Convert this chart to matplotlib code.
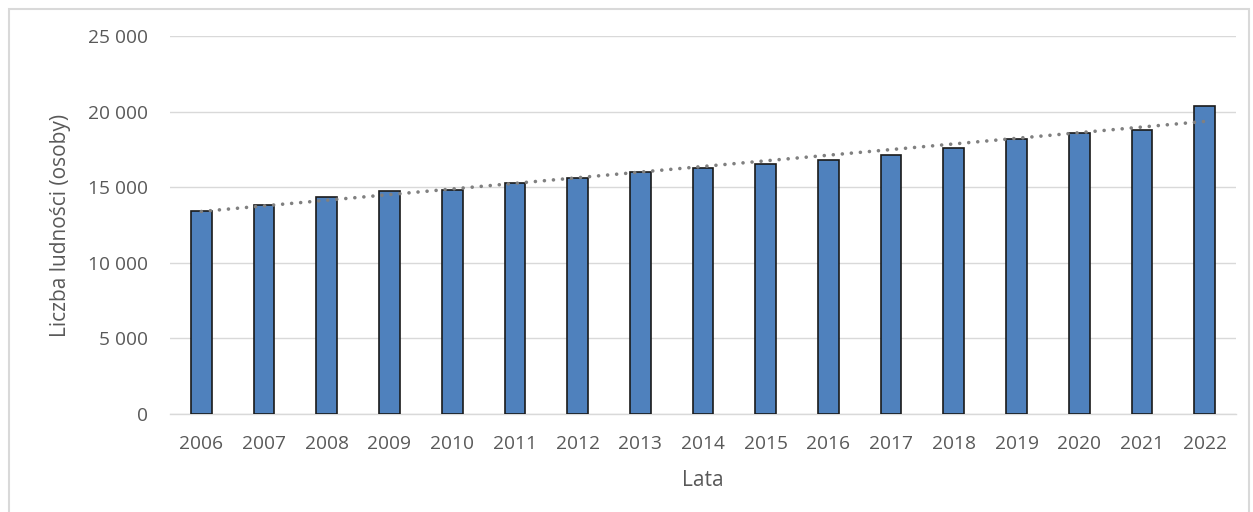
import matplotlib
matplotlib.use("Agg")
import matplotlib.pyplot as plt
import numpy as np
from matplotlib.patches import Rectangle

years = ["2006", "2007", "2008", "2009", "2010", "2011", "2012", "2013", "2014",
         "2015", "2016", "2017", "2018", "2019", "2020", "2021", "2022"]
population = [13455, 13810, 14380, 14735, 14830, 15310, 15620, 15990, 16240,
              16550, 16770, 17150, 17610, 18160, 18560, 18760, 20400]
yticks = [0, 5000, 10000, 15000, 20000, 25000]
ytick_labels = ["0", "5 000", "10 000", "15 000", "20 000", "25 000"]

plt.rcParams['font.family'] = ['Open Sans', 'DejaVu Sans']
text_color = "#595959"

fig = plt.figure(figsize=(12.53, 5.12), dpi=100)
ax = fig.add_axes([170/1253, 1-414/512, (1236-170)/1253, (414-36)/512])

x = np.arange(len(years))
ax.bar(x, population, width=0.33, color="#4F81BD", edgecolor="#1a1a1a",
       linewidth=1.2, zorder=3)

# linear trend line
coef = np.polyfit(x, population, 1)
ax.plot(x, np.polyval(coef, x), linestyle=(0, (0.01, 2.5)), color="#808080",
        linewidth=2.6, dash_capstyle="round", zorder=4)

ax.set_xlim(-0.5, len(years) - 0.5)
ax.set_ylim(0, 25000)
ax.set_yticks(yticks)
ax.set_yticklabels(ytick_labels)
ax.set_xticks(x)
ax.set_xticklabels(years)
ax.tick_params(axis="both", length=0, labelsize=13.8, colors=text_color)
ax.tick_params(axis="y", pad=16)
ax.tick_params(axis="x", pad=15)
ax.grid(axis="y", color="#D9D9D9", linewidth=1, zorder=0)
for s in ["top", "right", "left"]:
    ax.spines[s].set_visible(False)
ax.spines["bottom"].set_color("#D9D9D9")
ax.spines["bottom"].set_linewidth(1)

ax.set_ylabel("Liczba ludności (osoby)", fontsize=15, color=text_color, labelpad=12)
ax.set_xlabel("Lata", fontsize=15, color=text_color, labelpad=12)

fig.patches.append(Rectangle((9/1253, -0.05), (1249-9)/1253, 1.05 - 9/512,
                             transform=fig.transFigure, fill=False,
                             edgecolor="#D9D9D9", linewidth=1.5))

fig.savefig("out.png", dpi=100)
